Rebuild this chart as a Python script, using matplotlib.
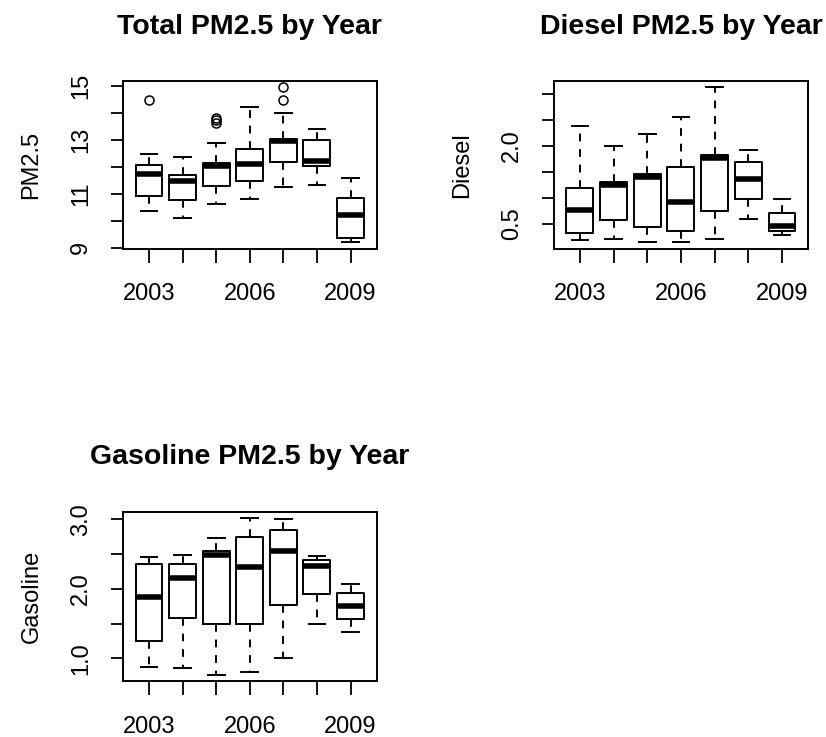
import matplotlib
matplotlib.use("Agg")
import matplotlib.pyplot as plt

plt.rcParams['font.family'] = ['Liberation Sans', 'DejaVu Sans']

years = [2003, 2004, 2005, 2006, 2007, 2008, 2009]
year_labels = ['2003', '', '', '2006', '', '', '2009']

# box summaries: lower whisker, Q1, median, Q3, upper whisker
total_lo = [10.36, 10.11, 10.63, 10.80, 11.25, 11.31, 9.20]
total_q1 = [10.93, 10.77, 11.28, 11.47, 12.19, 12.05, 9.38]
total_med = [11.73, 11.46, 12.03, 12.09, 12.95, 12.22, 10.23]
total_q3 = [12.07, 11.68, 12.15, 12.65, 13.05, 13.00, 10.85]
total_hi = [12.48, 12.37, 12.89, 14.20, 13.98, 13.41, 11.59]
total_out = [[14.48], [], [13.62, 13.72, 13.80], [], [14.48, 14.95], [], []]

diesel_lo = [0.19, 0.21, 0.14, 0.15, 0.20, 0.59, 0.28]
diesel_q1 = [0.32, 0.57, 0.43, 0.36, 0.74, 0.98, 0.37]
diesel_med = [0.76, 1.25, 1.40, 0.92, 1.77, 1.36, 0.45]
diesel_q3 = [1.19, 1.30, 1.46, 1.59, 1.82, 1.68, 0.70]
diesel_hi = [2.39, 1.99, 2.23, 2.55, 3.13, 1.92, 0.98]

gas_lo = [0.88, 0.86, 0.76, 0.81, 1.00, 1.50, 1.38]
gas_q1 = [1.25, 1.58, 1.50, 1.50, 1.77, 1.92, 1.57]
gas_med = [1.88, 2.16, 2.49, 2.32, 2.55, 2.33, 1.75]
gas_q3 = [2.36, 2.36, 2.54, 2.74, 2.84, 2.42, 1.94]
gas_hi = [2.46, 2.48, 2.73, 3.02, 3.00, 2.47, 2.07]


def make_stats(lo, q1, med, q3, hi, out=None):
    stats = []
    for i in range(len(lo)):
        stats.append(dict(whislo=lo[i], q1=q1[i], med=med[i], q3=q3[i],
                          whishi=hi[i], fliers=out[i] if out else []))
    return stats


def r_boxplot(ax, stats, title, ylabel, yticks, ylabels):
    pos = list(range(1, len(stats) + 1))
    ax.bxp(stats, positions=pos, widths=0.8, capwidths=0.5, showfliers=True,
           boxprops=dict(color='black', linewidth=1.4),
           medianprops=dict(color='black', linewidth=4.0, solid_capstyle='butt'),
           whiskerprops=dict(color='black', linewidth=1.4, linestyle=(0, (4, 4))),
           capprops=dict(color='black', linewidth=1.4),
           flierprops=dict(marker='o', markerfacecolor='none',
                           markeredgecolor='black', markersize=6.5,
                           markeredgewidth=1.1))
    # R style 4% padding around the data
    lows = [s['whislo'] for s in stats] + [f for s in stats for f in s['fliers']]
    highs = [s['whishi'] for s in stats] + [f for s in stats for f in s['fliers']]
    lo, hi = min(lows), max(highs)
    d = (hi - lo) * 0.04
    ax.set_ylim(lo - d, hi + d)
    ax.set_xlim(0.5 - 0.28, len(stats) + 0.5 + 0.28)
    ax.set_xticks(pos)
    ax.set_xticklabels(year_labels, fontsize=17)
    ax.set_yticks(yticks)
    ax.set_yticklabels(ylabels, fontsize=17, rotation=90, va='center')
    ax.tick_params(axis='x', length=10, width=1.3, pad=15)
    ax.tick_params(axis='y', length=9, width=1.3, pad=13)
    for sp in ax.spines.values():
        sp.set_linewidth(1.4)
    ax.set_title(title, fontsize=20.5, fontweight='bold', pad=34)
    ax.set_ylabel(ylabel, fontsize=17, labelpad=20)


fig = plt.figure(figsize=(8.26, 7.37), dpi=100)
ax1 = fig.add_axes([0.1486, 0.6626, 0.3075, 0.2275])
ax2 = fig.add_axes([0.6703, 0.6626, 0.3082, 0.2275])
ax3 = fig.add_axes([0.1486, 0.0756, 0.3075, 0.2301])

r_boxplot(ax1, make_stats(total_lo, total_q1, total_med, total_q3, total_hi, total_out),
          'Total PM2.5 by Year', 'PM2.5',
          [9, 10, 11, 12, 13, 14, 15], ['9', '', '11', '', '13', '', '15'])
r_boxplot(ax2, make_stats(diesel_lo, diesel_q1, diesel_med, diesel_q3, diesel_hi),
          'Diesel PM2.5 by Year', 'Diesel',
          [0.5, 1.0, 1.5, 2.0, 2.5, 3.0], ['0.5', '', '', '2.0', '', ''])
r_boxplot(ax3, make_stats(gas_lo, gas_q1, gas_med, gas_q3, gas_hi),
          'Gasoline PM2.5 by Year', 'Gasoline',
          [1.0, 1.5, 2.0, 2.5, 3.0], ['1.0', '', '2.0', '', '3.0'])

fig.savefig('out.png', dpi=100)
